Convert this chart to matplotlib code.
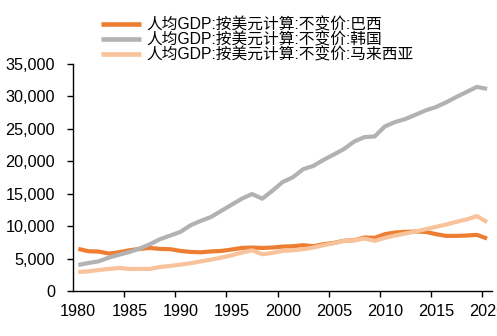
import numpy as np
import matplotlib
matplotlib.use("Agg")
import matplotlib.pyplot as plt

# GDP per capita, constant USD, 1980-2020
years = list(range(1980, 2021))

brazil = [6490, 6130, 6080, 5770, 5980, 6280, 6490, 6640, 6490, 6440,
          6180, 6020, 5970, 6100, 6180, 6390, 6640, 6700, 6640, 6700,
          6850, 6900, 7060, 6900, 7210, 7420, 7750, 7830, 8250, 8200,
          8760, 9020, 9120, 9170, 9120, 8760, 8500, 8500, 8550, 8660,
          8090]

korea = [4010, 4320, 4580, 5150, 5600, 6020, 6540, 7210, 7990, 8550,
         9120, 10150, 10820, 11420, 12370, 13300, 14230, 14950, 14230, 15470,
         16810, 17540, 18780, 19290, 20220, 21040, 21900, 23050, 23730, 23830,
         25380, 26050, 26520, 27180, 27850, 28370, 29090, 29920, 30690, 31470,
         31160]

malaysia = [2930, 3040, 3240, 3400, 3550, 3400, 3400, 3400, 3710, 3860,
            4070, 4280, 4580, 4840, 5150, 5510, 5920, 6280, 5670, 5870,
            6180, 6280, 6440, 6700, 7060, 7370, 7730, 7830, 8090, 7730,
            8190, 8550, 8870, 9170, 9530, 9890, 10250, 10670, 11040, 11550,
            10620]

labels = ["人均GDP:按美元计算:不变价:巴西",
          "人均GDP:按美元计算:不变价:韩国",
          "人均GDP:按美元计算:不变价:马来西亚"]
colors = ["#ED7D31", "#B2B2B2", "#F8C29A"]

FONT = ["Liberation Sans", "Noto Sans CJK SC", "DejaVu Sans"]
plt.rcParams["font.family"] = FONT

W, H = 497, 336
fig = plt.figure(figsize=(W / 100, H / 100), dpi=100)
ax = fig.add_axes([73.2 / W, 1 - 291 / H, 419 / W, 227 / H])

x = np.arange(len(years))
for vals, lab, c in zip([brazil, korea, malaysia], labels, colors):
    ax.plot(x, vals, color=c, lw=3.0, label=lab, solid_capstyle="butt")

ax.set_xlim(-0.5, len(years) - 0.5)
ax.set_ylim(0, 35000)
ax.set_yticks(range(0, 35001, 5000))
ax.set_yticklabels([f"{v:,}" for v in range(0, 35001, 5000)])

# category axis: labels on every 5th year, ticks between categories
label_idx = [i for i, y in enumerate(years) if y % 5 == 0]
ax.set_xticks(label_idx)
ax.set_xticklabels([str(years[i]) for i in label_idx])
ax.tick_params(axis="x", length=0, pad=9.5)
ax.set_xticks([i - 0.5 for i in label_idx if i > 0], minor=True)
ax.tick_params(axis="x", which="minor", length=4, width=1, direction="out")
ax.tick_params(axis="y", length=4, width=1, direction="out", pad=9)
ax.tick_params(labelsize=11.7, colors="black")

for s in ["top", "right"]:
    ax.spines[s].set_visible(False)
for s in ["left", "bottom"]:
    ax.spines[s].set_color("black")
    ax.spines[s].set_linewidth(1)

leg = fig.legend(loc="upper left", bbox_to_anchor=(101 / W, 1 - 17 / H),
                 frameon=False, fontsize=11.3, handlelength=2.55,
                 handletextpad=0.32, labelspacing=0.0, borderpad=0,
                 borderaxespad=0)
for line in leg.get_lines():
    line.set_linewidth(3.3)

fig.savefig("out.png", dpi=100)
